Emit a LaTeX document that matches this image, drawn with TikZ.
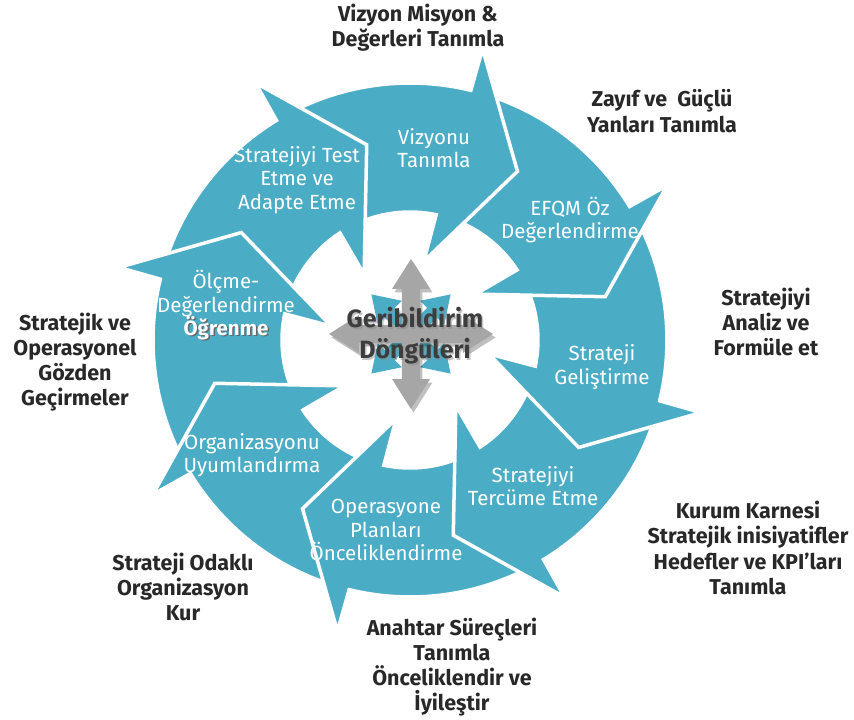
\documentclass[tikz,border=0pt]{standalone}
\usepackage{fontspec}
\setmainfont{Fira Sans}
\definecolor{cyb}{RGB}{75,172,198}
\definecolor{qgray}{RGB}{166,166,166}
\definecolor{txtc}{RGB}{40,40,40}
\newcommand\cycarrow[1]{({#1+60}:257) arc[start angle={#1+60}, end angle={#1+18.8}, radius=257] -- ({#1+18.5}:300) -- (#1:200) -- ({#1+22.5}:80) -- ({#1+20.7}:128) arc[start angle={#1+20.7}, end angle={#1+60}, radius=128] -- cycle}
\newcommand\quadpath{(82,0) -- (52,19) -- (52,9) -- (9,9) -- (9,45) -- (19,45) -- (0,75) -- (-19,45) -- (-9,45) -- (-9,9) -- (-52,9) -- (-52,19) -- (-82,0) -- (-52,-19) -- (-52,-9) -- (-9,-9) -- (-9,-45) -- (-19,-45) -- (0,-75) -- (19,-45) -- (9,-45) -- (9,-9) -- (52,-9) -- (52,-19) -- cycle}
\begin{document}
\begin{tikzpicture}[x=1pt,y=1pt,
  seg/.style={fill=cyb, draw=white, line width=3.5pt, line join=miter},
  outlbl/.style={font=\bfseries\fontsize{21.5}{25.2}\selectfont, text=txtc, align=center, inner sep=0pt},
  inlbl/.style={font=\fontsize{20.5}{23.5}\selectfont, text=white, align=center, inner sep=0pt}]
\useasboundingbox (-410,-380) rectangle (444,340);
% cycle arrows, each head over the next tail
\foreach \t in {-257.5,-212.5,-167.5,-122.5,-77.5,-32.5,12.5,57.5}{
  \path[seg] \cycarrow{\t};
}
\begin{scope}
  \clip (0,0) -- (99:340) arc[start angle=99, end angle=140, radius=340] -- cycle;
  \path[seg] \cycarrow{102.5};
\end{scope}
% centre symbol
\begin{scope}[shift={(1,6)}]
  \foreach \a in {45,135,225,315}{
    \fill[cyb, rotate=\a] (0,-7) -- (30,-7) -- (30,-17) -- (56,0) -- (30,17) -- (30,7) -- (0,7) -- cycle;
  }
  \fill[black, opacity=0.25, shift={(2.5,-3.5)}] \quadpath;
  \fill[qgray] \quadpath;
\end{scope}
\node[font=\bfseries\fontsize{25}{31}\selectfont, text=black!45, opacity=0.5, align=center] (ctrs) at (6.5,2.5) {Geribildirim\\Döngüleri};
\node[font=\bfseries\fontsize{25}{31}\selectfont, text=txtc!90, align=center] (ctr) at (5,4) {Geribildirim\\Döngüleri};
% inner labels
\node[inlbl] (l1) at (24,192) {Vizyonu\\Tanımla};
\node[inlbl] (l2) at (160,120) {EFQM Öz\\Değerlendirme};
\node[inlbl] (l3) at (192,-27) {Strateji\\Geliştirme};
\node[inlbl] (l4) at (123,-146) {Stratejiyi\\Tercüme Etme};
\node[inlbl] (l5) at (-24,-190) {Operasyone\\Planları\\Önceliklendirme};
\node[inlbl] (l6) at (-158,-115) {Organizasyonu\\Uyumlandırma};
\node[inlbl] (l7) at (-184,37) {Ölçme-\\Değerlendirme\\\phantom{Ö}};
\node[inlbl, font=\bfseries\fontsize{20.5}{23.5}\selectfont, text=black!60] (l7bs) at (-182.5,10.5) {Öğrenme};
\node[inlbl, font=\bfseries\fontsize{20.5}{23.5}\selectfont] (l7b) at (-184,12) {Öğrenme};
\node[inlbl] (l8) at (-113,160) {Stratejiyi Test\\Etme ve\\Adapte Etme};
% outer labels
\node[outlbl] (o1) at (8,312) {Vizyon Misyon \&\\Değerleri Tanımla};
\node[outlbl] (o2) at (252,229) {Zayıf ve~ Güçlü\\Yanları Tanımla};
\node[outlbl] (o3) at (356,18) {Stratejiyi\\Analiz ve\\Formüle et};
\node[outlbl] (o4) at (338,-208) {Kurum Karnesi\\Stratejik inisiyatifler\\Hedefler ve KPI’ları\\Tanımla};
\node[outlbl] (o5) at (42,-327) {Anahtar Süreçleri\\Tanımla\\Önceliklendir ve\\İyileştir};
\node[outlbl] (o6) at (-227,-247) {Strateji Odaklı\\Organizasyon\\Kur};
\node[outlbl] (o7) at (-335,-22) {Stratejik ve\\Operasyonel\\Gözden\\Geçirmeler};
\end{tikzpicture}
\end{document}
